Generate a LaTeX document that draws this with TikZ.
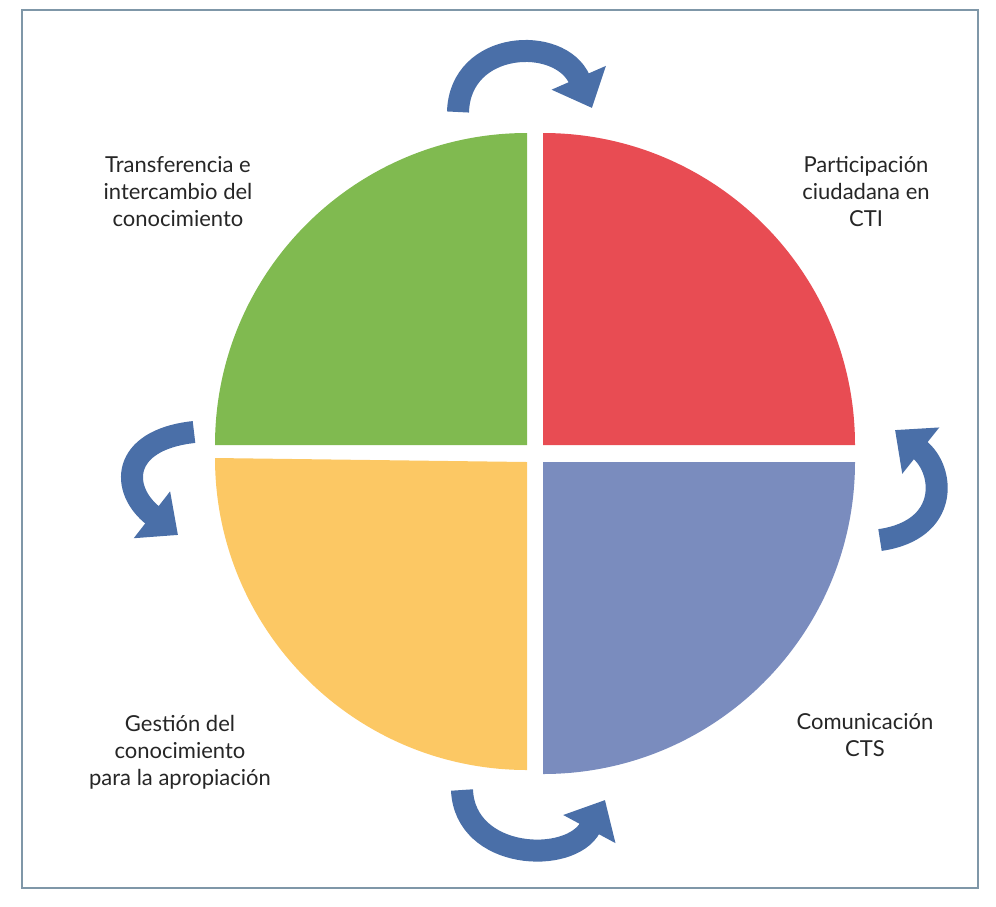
\documentclass[tikz,border=0pt]{standalone}
\usepackage{fontspec}
\setmainfont{Lato}
\usetikzlibrary{arrows.meta}
\definecolor{qgreen}{HTML}{80BA50}
\definecolor{qred}{HTML}{E84C53}
\definecolor{qyellow}{HTML}{FCC864}
\definecolor{qblue}{HTML}{7A8CBE}
\definecolor{arr}{HTML}{4A6FA8}
\definecolor{frame}{HTML}{7F97A8}
\begin{document}
\begin{tikzpicture}[x=1pt,y=-1pt,
  cyc/.style={draw=arr,line width=22pt,-{Triangle[length=0pt 1.5,width=0pt 2.6]}},
  lab/.style={font=\fontsize{22}{27}\selectfont,align=center,text=black!85}]
\useasboundingbox (0,0) rectangle (996,906);
\draw[frame,line width=1.5pt] (22,10) rectangle (978,888);
\fill[qgreen] (527,445) -- (215,445) arc[start angle=180,end angle=270,radius=312] -- cycle;
\fill[qred] (543,445) -- (543,133) arc[start angle=270,end angle=360,radius=312] -- cycle;
\fill[qyellow] (527,462) -- (527,770) arc[start angle=90,end angle=180,radius=312] -- cycle;
\fill[qblue] (543,462) -- (855,462) arc[start angle=0,end angle=90,radius=312] -- cycle;
\coordinate (t1) at (458,112); \coordinate (t2) at (592,108);
\draw[cyc] (t1) .. controls (460,40) and (560,35) .. (t2);
\coordinate (b1) at (462,790); \coordinate (b2) at (605,800);
\draw[cyc] (b1) .. controls (465,860) and (570,865) .. (b2);
\coordinate (l1) at (194,432); \coordinate (l2) at (178,535);
\draw[cyc] (l1) .. controls (120,440) and (120,490) .. (l2);
\coordinate (r1) at (880,540); \coordinate (r2) at (895,430);
\draw[cyc] (r1) .. controls (950,530) and (945,470) .. (r2);
\node[lab] (tl) at (178,192) {Transferencia e\\intercambio del\\conocimiento};
\node[lab] (tr) at (866,192) {Participación\\ciudadana en\\CTI};
\node[lab] (bl) at (180,752) {Gestión del\\conocimiento\\para la apropiación};
\node[lab] (br) at (865,735) {Comunicación\\CTS};
\end{tikzpicture}
\end{document}
